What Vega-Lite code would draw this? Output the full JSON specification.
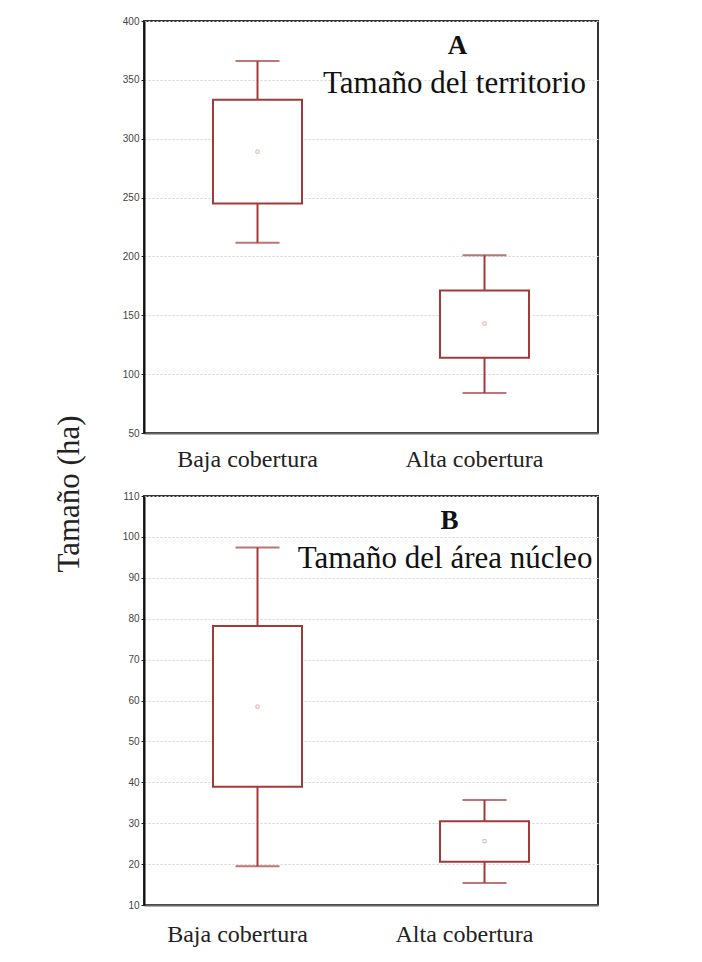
{
  "$schema": "https://vega.github.io/schema/vega-lite/v6.json",
  "background": "white",
  "padding": {"left": 52, "top": 15, "right": 10, "bottom": 5},
  "bounds": "flush",
  "spacing": 63,
  "datasets": {
    "stats": [
      {"panel": "A", "grupo": "Baja cobertura", "min": 211.6, "q1": 245, "media": 289, "q3": 333, "max": 366},
      {"panel": "A", "grupo": "Alta cobertura", "min": 84, "q1": 114, "media": 143, "q3": 171, "max": 201},
      {"panel": "B", "grupo": "Baja cobertura", "min": 19.5, "q1": 38.9, "media": 58.5, "q3": 78.2, "max": 97.4},
      {"panel": "B", "grupo": "Alta cobertura", "min": 15.4, "q1": 20.6, "media": 25.6, "q3": 30.5, "max": 35.7}
    ],
    "rotulos": [
      {"panel": "A", "letra": "A", "nombre": "Tamaño del territorio"},
      {"panel": "B", "letra": "B", "nombre": "Tamaño del área núcleo"}
    ]
  },
  "vconcat": [
    {
      "width": 454,
      "height": 412,
      "encoding": {
        "x": {
          "field": "grupo", "type": "nominal",
          "sort": ["Baja cobertura", "Alta cobertura"],
          "scale": {"paddingInner": 0, "paddingOuter": 0},
          "axis": {"title": null, "labelPadding": 14, "labelOffset": -10}
        }
      },
      "layer": [
        {
          "data": {"name": "stats"},
          "transform": [{"filter": "datum.panel === 'A'"}],
          "layer": [
            {
              "mark": {"type": "rule", "color": "#a33a3a", "strokeWidth": 2},
              "encoding": {
                "y": {
                  "field": "min", "type": "quantitative",
                  "scale": {"domain": [50, 400], "nice": false, "zero": false},
                  "axis": {
                    "values": [50, 100, 150, 200, 250, 300, 350, 400],
                    "title": "Tamaño (ha)", "titleFont": "Liberation Serif", "titleFontSize": 31, "titleFontWeight": "normal", "titleColor": "#222",
                    "titleAngle": 270, "titleBaseline": "alphabetic", "titleAlign": "center", "titleX": -66, "titleY": 472.5
                  }
                },
                "y2": {"field": "q1"}
              }
            },
            {
              "mark": {"type": "rule", "color": "#a33a3a", "strokeWidth": 2},
              "encoding": {"y": {"field": "q3", "type": "quantitative"}, "y2": {"field": "max"}}
            },
            {
              "mark": {"type": "bar", "size": 89, "fill": "white", "stroke": "#a33a3a", "strokeWidth": 2},
              "encoding": {"y": {"field": "q1", "type": "quantitative"}, "y2": {"field": "q3"}}
            },
            {
              "mark": {"type": "tick", "size": 44, "thickness": 2, "color": "#a33a3a"},
              "encoding": {"y": {"field": "min", "type": "quantitative"}}
            },
            {
              "mark": {"type": "tick", "size": 44, "thickness": 2, "color": "#a33a3a"},
              "encoding": {"y": {"field": "max", "type": "quantitative"}}
            },
            {
              "mark": {"type": "point", "shape": "square", "size": 10, "filled": false, "color": "#e3b3b3", "strokeWidth": 1, "opacity": 1},
              "encoding": {"y": {"field": "media", "type": "quantitative"}}
            }
          ]
        },
        {
          "data": {"name": "rotulos"},
          "transform": [{"filter": "datum.panel === 'A'"}],
          "layer": [
            {
              "mark": {"type": "text", "font": "Liberation Serif", "fontSize": 27, "fontWeight": "bold", "color": "#111", "align": "center", "baseline": "alphabetic", "dx": -27},
              "encoding": {
                "x": {"datum": "Alta cobertura"},
                "y": {"datum": 372, "type": "quantitative"},
                "text": {"field": "letra"}
              }
            },
            {
              "mark": {"type": "text", "font": "Liberation Serif", "fontSize": 31, "color": "#111", "align": "center", "baseline": "alphabetic", "dx": -30},
              "encoding": {
                "x": {"datum": "Alta cobertura"},
                "y": {"datum": 338.8, "type": "quantitative"},
                "text": {"field": "nombre"}
              }
            }
          ]
        }
      ]
    },
    {
      "width": 454,
      "height": 409,
      "encoding": {
        "x": {
          "field": "grupo", "type": "nominal",
          "sort": ["Baja cobertura", "Alta cobertura"],
          "scale": {"paddingInner": 0, "paddingOuter": 0},
          "axis": {"title": null, "labelPadding": 17, "labelOffset": -20}
        }
      },
      "layer": [
        {
          "data": {"name": "stats"},
          "transform": [{"filter": "datum.panel === 'B'"}],
          "layer": [
            {
              "mark": {"type": "rule", "color": "#a33a3a", "strokeWidth": 2},
              "encoding": {
                "y": {
                  "field": "min", "type": "quantitative",
                  "scale": {"domain": [10, 110], "nice": false, "zero": false},
                  "axis": {
                    "values": [10, 20, 30, 40, 50, 60, 70, 80, 90, 100, 110],
                    "title": null
                  }
                },
                "y2": {"field": "q1"}
              }
            },
            {
              "mark": {"type": "rule", "color": "#a33a3a", "strokeWidth": 2},
              "encoding": {"y": {"field": "q3", "type": "quantitative"}, "y2": {"field": "max"}}
            },
            {
              "mark": {"type": "bar", "size": 89, "fill": "white", "stroke": "#a33a3a", "strokeWidth": 2},
              "encoding": {"y": {"field": "q1", "type": "quantitative"}, "y2": {"field": "q3"}}
            },
            {
              "mark": {"type": "tick", "size": 44, "thickness": 2, "color": "#a33a3a"},
              "encoding": {"y": {"field": "min", "type": "quantitative"}}
            },
            {
              "mark": {"type": "tick", "size": 44, "thickness": 2, "color": "#a33a3a"},
              "encoding": {"y": {"field": "max", "type": "quantitative"}}
            },
            {
              "mark": {"type": "point", "shape": "square", "size": 10, "filled": false, "color": "#e3b3b3", "strokeWidth": 1, "opacity": 1},
              "encoding": {"y": {"field": "media", "type": "quantitative"}}
            }
          ]
        },
        {
          "data": {"name": "rotulos"},
          "transform": [{"filter": "datum.panel === 'B'"}],
          "layer": [
            {
              "mark": {"type": "text", "font": "Liberation Serif", "fontSize": 27, "fontWeight": "bold", "color": "#111", "align": "center", "baseline": "alphabetic", "dx": -35},
              "encoding": {
                "x": {"datum": "Alta cobertura"},
                "y": {"datum": 101.9, "type": "quantitative"},
                "text": {"field": "letra"}
              }
            },
            {
              "mark": {"type": "text", "font": "Liberation Serif", "fontSize": 31, "color": "#111", "align": "center", "baseline": "alphabetic", "dx": -39.5},
              "encoding": {
                "x": {"datum": "Alta cobertura"},
                "y": {"datum": 92.4, "type": "quantitative"},
                "text": {"field": "nombre"}
              }
            }
          ]
        }
      ]
    }
  ],
  "config": {
    "view": {"stroke": "#333", "strokeWidth": 2},
    "font": "Liberation Serif",
    "axisX": {"labelAngle": 0, "labelFont": "Liberation Serif", "labelFontSize": 24, "labelColor": "#222", "labelBaseline": "top", "ticks": false, "domainColor": "#666", "domainWidth": 2, "grid": false},
    "axisY": {
      "labelFont": "Liberation Sans", "labelFontSize": 10, "labelColor": "#444", "labelPadding": 2, "labelFlush": false,
      "tickSize": 3, "tickColor": "#222", "domainColor": "#111", "domainWidth": 2,
      "grid": true, "gridColor": "#d4d4d4", "gridDash": [2, 2], "gridWidth": 1
    }
  }
}
